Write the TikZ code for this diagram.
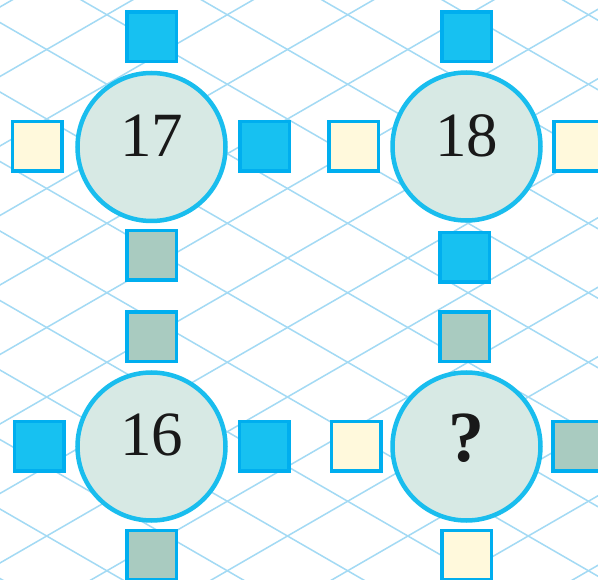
\documentclass[tikz,border=0pt]{standalone}
\usepackage{fontspec}
\setmainfont{Liberation Serif}
\definecolor{gridc}{HTML}{A3DAF4}
\definecolor{ringc}{HTML}{19BDEE}
\definecolor{discc}{HTML}{D7E9E4}
\definecolor{bluec}{HTML}{17C1F1}
\definecolor{edgec}{HTML}{00AEEF}
\definecolor{creamc}{HTML}{FFF9DC}
\definecolor{grayc}{HTML}{A9CBC0}
\tikzset{
  gridline/.style={draw=gridc, line width=1.5pt},
  disc/.style={circle, draw=ringc, fill=discc, line width=4.5pt, minimum size=148pt, inner sep=0pt},
  sq/.style={rectangle, draw=edgec, line width=3.5pt, minimum size=49.5pt, inner sep=0pt},
  sqblue/.style={sq, fill=bluec},
  sqcream/.style={sq, fill=creamc},
  sqgray/.style={sq, fill=grayc},
  num/.style={anchor=base, inner sep=0pt, text=black!90, font=\fontsize{63}{63}\selectfont},
  qmark/.style={anchor=base, inner sep=0pt, text=black!90, font=\fontsize{72}{72}\selectfont\bfseries}
}
\begin{document}
\begin{tikzpicture}[x=1pt,y=1pt]
\useasboundingbox (0,0) rectangle (598,-580);
\clip (0,0) rectangle (598,-580);
\fill[white] (0,0) rectangle (598,-580);
% grid
\foreach \k in {-12,...,12}{
  \draw[gridline] (46.7,-188.5-69.5*\k) ++(-700,404.1) -- ++(1400,-808.2);
  \draw[gridline] (46.7,-188.5-69.5*\k) ++(-700,-404.1) -- ++(1400,808.2);
}
% circle 17
\node[disc] (c17) at (151.5,-147) {};
\node[num] (t17) at (151.5,-157) {17};
\node[sqblue]  (c17t) at (151.5,-37) {};
\node[sqcream] (c17l) at (37,-146.5) {};
\node[sqblue]  (c17r) at (264.5,-146.5) {};
\node[sqgray]  (c17b) at (151.5,-255.5) {};
% circle 18
\node[disc] (c18) at (466.5,-146.5) {};
\node[num] (t18) at (466.5,-157) {18};
\node[sqblue]  (c18t) at (466.5,-37) {};
\node[sqcream] (c18l) at (353.5,-146.5) {};
\node[sqcream] (c18r) at (578.5,-146.5) {};
\node[sqblue]  (c18b) at (464.5,-257.5) {};
% circle 16
\node[disc] (c16) at (151.5,-446.5) {};
\node[num] (t16) at (151.5,-456) {16};
\node[sqgray]  (c16t) at (151.5,-337) {};
\node[sqblue]  (c16l) at (39,-446.5) {};
\node[sqblue]  (c16r) at (264,-446.5) {};
\node[sqgray]  (c16b) at (151.5,-555) {};
% circle ?
\node[disc] (cq) at (466.5,-446.5) {};
\node[qmark] (tq) at (466.5,-462) {?};
\node[sqgray]  (cqt) at (464.5,-337) {};
\node[sqcream] (cql) at (356,-446.5) {};
\node[sqgray]  (cqr) at (577.5,-446.5) {};
\node[sqcream] (cqb) at (466.5,-555) {};
\end{tikzpicture}
\end{document}
